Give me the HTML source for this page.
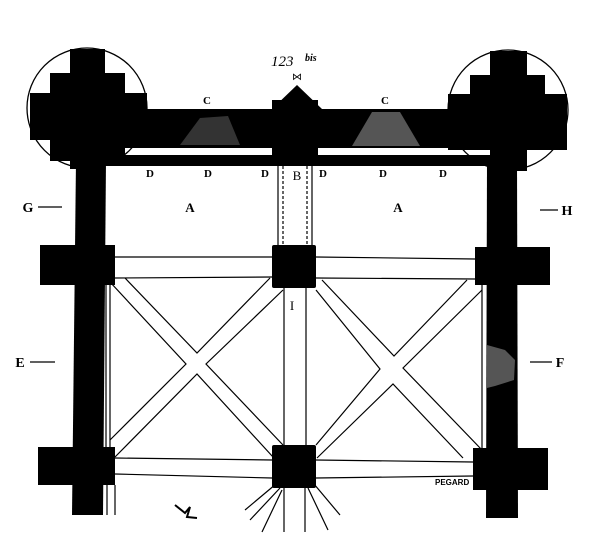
<!DOCTYPE html>
<html><head><meta charset="utf-8"><style>
html,body{margin:0;padding:0;background:#fff;width:600px;height:554px;overflow:hidden}
svg{display:block}
text{font-family:"Liberation Serif",serif;fill:#000}
</style></head><body>
<svg width="600" height="554" viewBox="0 0 600 554" xmlns="http://www.w3.org/2000/svg">
<circle cx="87" cy="108" r="60" fill="#fff" stroke="#000" stroke-width="1.3"/>
<circle cx="508" cy="110" r="60" fill="#fff" stroke="#000" stroke-width="1.3"/>
<g fill="#000">
<rect x="70" y="49" width="35" height="120"/>
<rect x="50" y="73" width="75" height="88"/>
<rect x="30" y="93" width="117" height="47"/>
<rect x="490" y="51" width="37" height="120"/>
<rect x="470" y="75" width="75" height="75"/>
<rect x="448" y="94" width="119" height="56"/>
<rect x="105" y="109" width="385" height="39"/>
<rect x="105" y="155" width="385" height="11"/>
<polygon points="272,109 297,85 322,109"/>
<rect x="272" y="100" width="46" height="66"/>
<polygon points="76,160 106,160 103,515 72,515"/>
<polygon points="487,160 517,160 518,518 486,518"/>
<rect x="40" y="245" width="75" height="40"/>
<rect x="475" y="247" width="75" height="38"/>
<rect x="38" y="447" width="77" height="38"/>
<rect x="473" y="448" width="75" height="42"/>
<rect x="272" y="245" width="44" height="43" rx="2"/>
<rect x="272" y="445" width="44" height="43" rx="2"/>
</g>
<polygon points="180,145 200,118 228,116 240,145" fill="#333"/>
<polygon points="352,146 372,112 400,112 420,146" fill="#555"/>
<polygon points="487,345 505,350 515,360 514,380 495,386 487,388" fill="#555"/>
<g stroke="#000" fill="none" stroke-width="1.2">
<line x1="278" y1="166" x2="278" y2="245"/>
<line x1="312" y1="166" x2="312" y2="245"/>
<line x1="283" y1="166" x2="283" y2="245" stroke-dasharray="3,2"/>
<line x1="307" y1="166" x2="307" y2="245" stroke-dasharray="3,2"/>
<line x1="115" y1="257" x2="272" y2="257"/>
<line x1="316" y1="257" x2="475" y2="259"/>
<line x1="115" y1="278" x2="272" y2="277"/>
<line x1="316" y1="278" x2="475" y2="279"/>
<line x1="115" y1="458" x2="272" y2="460"/>
<line x1="316" y1="460" x2="473" y2="462"/>
<line x1="115" y1="474" x2="272" y2="478"/>
<line x1="316" y1="478" x2="473" y2="476"/>
<line x1="106" y1="285" x2="106" y2="447"/>
<line x1="110" y1="285" x2="110" y2="447"/>
<line x1="482" y1="285" x2="482" y2="448"/>
<line x1="107" y1="485" x2="107" y2="515"/>
<line x1="115" y1="485" x2="115" y2="515"/>
<line x1="284" y1="288" x2="284" y2="445"/>
<line x1="306" y1="288" x2="306" y2="445"/>
<!-- left bay X triangles -->
<polyline points="125,278 197,353 270,278"/>
<polyline points="110,282 186,364 110,440"/>
<polyline points="283,290 206,364 283,445"/>
<polyline points="115,457 197,374 273,457"/>
<!-- right bay X triangles -->
<polyline points="322,280 394,356 467,280"/>
<polyline points="316,290 380,369 316,445"/>
<polyline points="482,290 403,368 482,450"/>
<polyline points="317,458 393,384 463,458"/>
<!-- radiating -->
<line x1="280" y1="488" x2="250" y2="520"/>
<line x1="276" y1="484" x2="245" y2="510"/>
<line x1="284" y1="488" x2="284" y2="532"/>
<line x1="305" y1="488" x2="305" y2="532"/>
<line x1="308" y1="488" x2="328" y2="530"/>
<line x1="314" y1="484" x2="340" y2="515"/>
<line x1="282" y1="490" x2="262" y2="532"/>
<line x1="38" y1="207" x2="62" y2="207"/>
<line x1="540" y1="210" x2="558" y2="210"/>
<line x1="30" y1="362" x2="55" y2="362"/>
<line x1="530" y1="362" x2="552" y2="362"/>
</g>
<text x="271" y="66" font-size="15" font-style="italic">123</text>
<text x="305" y="61" font-size="10" font-style="italic" font-weight="bold">bis</text>
<text x="297" y="80" font-size="10" text-anchor="middle">⋈</text>
<g font-size="11" text-anchor="middle" font-weight="bold">
<text x="207" y="104">C</text>
<text x="385" y="104">C</text>
<text x="150" y="177">D</text>
<text x="208" y="177">D</text>
<text x="265" y="177">D</text>
<text x="323" y="177">D</text>
<text x="383" y="177">D</text>
<text x="443" y="177">D</text>
<text x="297" y="180" font-size="13" font-weight="normal">B</text>
<text x="190" y="212" font-size="13">A</text>
<text x="398" y="212" font-size="13">A</text>
<text x="28" y="212" font-size="14">G</text>
<text x="567" y="215" font-size="14">H</text>
<text x="20" y="367" font-size="14">E</text>
<text x="560" y="367" font-size="14">F</text>
<text x="292" y="310" font-size="13" font-weight="normal">I</text>
</g>
<text x="435" y="485" font-size="8" font-weight="bold" style="font-family:'Liberation Sans',sans-serif">PEGARD</text>
<path d="M175,505 l10,8 l5,-6 l-3,10 l10,1" stroke="#000" stroke-width="2" fill="none"/>
</svg>
</body></html>
